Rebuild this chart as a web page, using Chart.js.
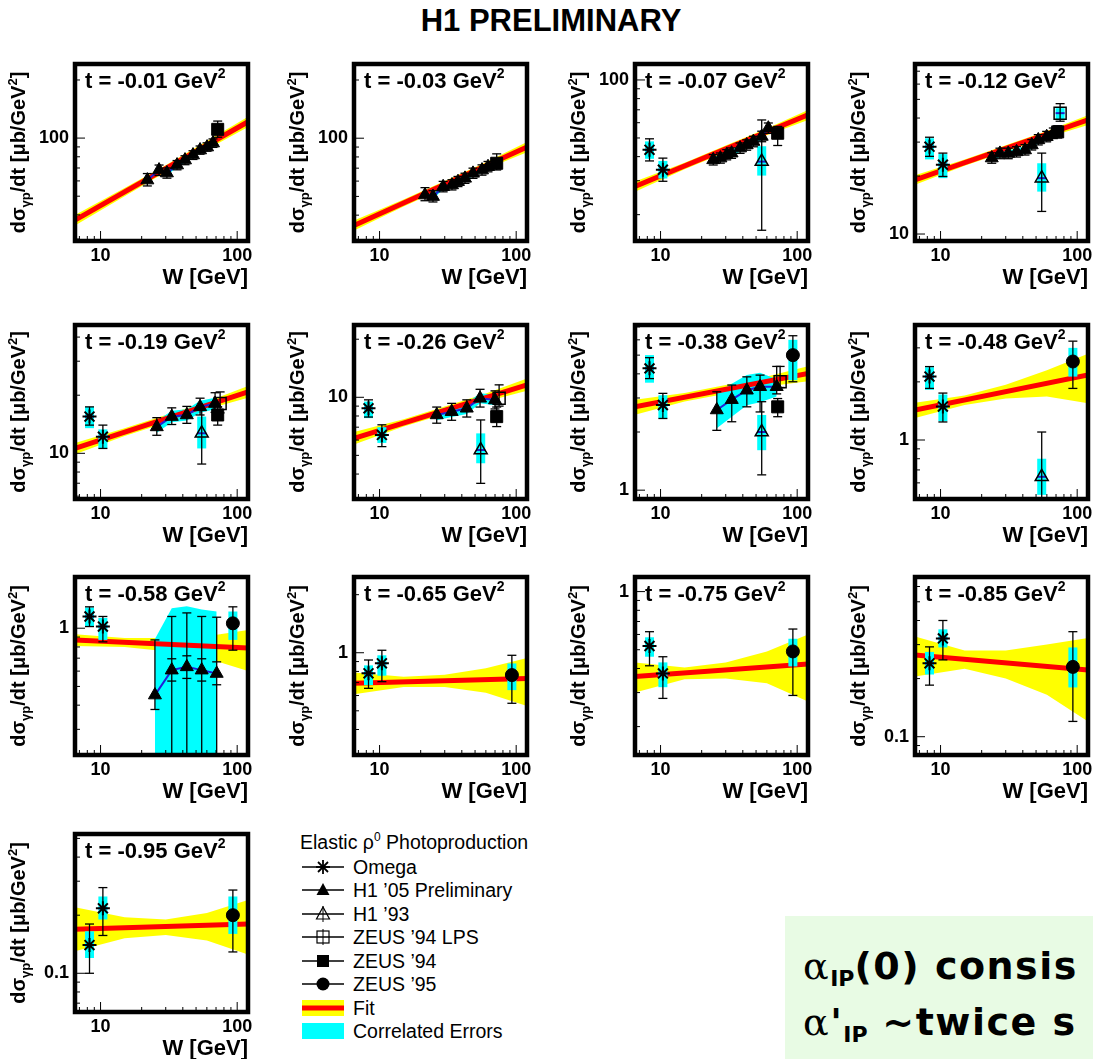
<!DOCTYPE html>
<html>
<head>
<meta charset="utf-8">
<script src="https://cdn.jsdelivr.net/npm/chart.js@4.4.1/dist/chart.umd.min.js"></script>
<style>
  body { margin: 0; width: 1093px; height: 1059px; overflow: hidden; background: #fff; position: relative;
         font-family: "Liberation Sans", Arial, sans-serif; color: #000; }
  canvas.panel { position: absolute; }
  #title { position: absolute; left: 0; width: 1102px; top: 3px; text-align: center; font-weight: bold; font-size: 31px; }
  #legend { position: absolute; left: 0; top: 0; }
  .lg-title { position: absolute; left: 300px; top: 830px; font-size: 19.5px; white-space: nowrap; }
  .lg-row { position: absolute; left: 302px; height: 22px; white-space: nowrap; font-size: 19.5px; line-height: 22px; }
  .lg-row svg { position: absolute; left: 0; top: 1px; }
  .lg-row span { position: absolute; left: 51px; top: 0; }
  #note { position: absolute; left: 785px; top: 916px; width: 320px; height: 150px; background: #e8fbe4;
          font-family: "DejaVu Sans", sans-serif; font-weight: bold; font-size: 38px; letter-spacing: 1.5px;
          white-space: nowrap; }
  #note div { position: absolute; left: 18px; }
  #note .a { font-family: "DejaVu Serif", serif; font-weight: normal; }
  #note sub { font-size: 22px; vertical-align: -7px; letter-spacing: 0; }
</style>
</head>
<body>
<div id="title">H1 PRELIMINARY</div>

<script>
// t bins and axis ranges (dsigma/dt in mub/GeV^2, W in GeV)
const tLabels = ['-0.01', '-0.03', '-0.07', '-0.12', '-0.19', '-0.26', '-0.38',
                 '-0.48', '-0.58', '-0.65', '-0.75', '-0.85', '-0.95'];
const wRange = [6.5, 120];
const yRanges = [[29.3, 242], [29.4, 242], [14.6, 121], [9.2, 76.3], [5.8, 46.2], [2.97, 23.7],
                 [0.90, 7.16], [0.495, 3.94], [0.221, 1.84], [0.295, 2.47], [0.1426, 1.19],
                 [0.0804, 0.672], [0.063, 0.527]];

// power-law fit: value at W = 6.5 and W = 120
const fitEnds = [[37.6, 121.5], [35.4, 90.1], [28.0, 65.9], [19.1, 39.1], [10.6, 20.8], [6.13, 11.6],
                 [2.70, 4.02], [1.43, 2.17], [0.87, 0.79], [0.694, 0.735], [0.363, 0.422],
                 [0.265, 0.2215], [0.169, 0.180]];

// fit uncertainty band edges
const bandW = [6.5, 15, 30, 60, 120];
const bandHi = [
  [39.9, 55.2, 72.3, 96.5, 128.8], [37.5, 48.2, 60.1, 75.0, 95.5], [29.7, 37.2, 45.7, 56.0, 69.9],
  [20.2, 24.4, 28.9, 34.3, 41.4], [11.3, 13.5, 15.8, 18.5, 22.3], [6.6, 7.7, 8.95, 10.45, 12.5],
  [2.94, 3.18, 3.5, 3.88, 4.38], [1.56, 1.70, 1.93, 2.30, 2.80], [0.93, 0.89, 0.89, 0.91, 0.98],
  [0.79, 0.75, 0.77, 0.83, 0.94], [0.43, 0.405, 0.43, 0.49, 0.60], [0.33, 0.28, 0.28, 0.30, 0.325],
  [0.22, 0.195, 0.19, 0.205, 0.24]];
const bandLo = [
  [35.3, 50.0, 66.7, 87.3, 114.2], [33.3, 44.4, 55.5, 69.2, 84.7], [26.3, 34.4, 42.1, 51.6, 61.9],
  [18.0, 22.6, 26.7, 31.7, 36.8], [9.9, 12.3, 14.4, 16.9, 19.4], [5.7, 7.05, 8.2, 9.5, 10.8],
  [2.46, 2.88, 3.16, 3.44, 3.66], [1.30, 1.52, 1.64, 1.68, 1.55], [0.81, 0.80, 0.76, 0.70, 0.60],
  [0.61, 0.665, 0.665, 0.62, 0.53], [0.30, 0.352, 0.355, 0.335, 0.27], [0.205, 0.225, 0.20, 0.165, 0.12],
  [0.13, 0.152, 0.158, 0.148, 0.125]];

// points: [W, value, totalLow, totalHigh, corrLow, corrHigh, statLow, statHigh]
const omega = [
  [], [],
  [[8.3, 43.4, 38.0, 49.5, 39.0, 48.0], [10.4, 34.2, 29.8, 39.3, 30.8, 38.0]],
  [[8.3, 28.4, 25.3, 31.8, 24.4, 31.4], [10.4, 22.9, 19.9, 26.3, 19.5, 26.0]],
  [[8.3, 15.5, 14.0, 17.4, 13.5, 17.4], [10.4, 12.2, 10.6, 14.0, 10.6, 13.3]],
  [[8.3, 8.77, 7.9, 9.7, 7.8, 9.5], [10.4, 6.38, 5.55, 7.2, 5.8, 7.0]],
  [[8.3, 4.27, 3.78, 4.85, 3.6, 5.0], [10.4, 2.76, 2.35, 3.17, 2.35, 3.1]],
  [[8.3, 2.13, 1.85, 2.4, 1.82, 2.38], [10.4, 1.49, 1.24, 1.75, 1.25, 1.72]],
  [[8.3, 1.15, 1.02, 1.29, 1.02, 1.28], [10.4, 1.02, 0.85, 1.15, 0.87, 1.13]],
  [[8.3, 0.782, 0.654, 0.917, 0.68, 0.86], [10.4, 0.881, 0.708, 1.03, 0.76, 0.97]],
  [[8.3, 0.523, 0.413, 0.62, 0.46, 0.58], [10.4, 0.377, 0.28, 0.46, 0.32, 0.43]],
  [[8.3, 0.24, 0.185, 0.292, 0.21, 0.275], [10.4, 0.323, 0.25, 0.40, 0.29, 0.36]],
  [[8.3, 0.14, 0.10, 0.18, 0.12, 0.165], [10.4, 0.217, 0.157, 0.278, 0.19, 0.25]]
];
const h1_05 = [
  [[22, 60.6, 56.5, 65.5, 59.0, 62.3], [26.8, 68.3, 64, 72.5, 66.5, 70], [30.6, 65.9, 62, 70, 64.2, 67.6],
   [36.3, 72.5, 68.5, 76.5, 70.5, 74.5], [41.5, 76.9, 72.8, 81, 74.8, 79], [47.5, 81.7, 77.5, 86, 79.5, 84],
   [53.5, 86.7, 82.5, 91, 84.3, 89.2], [60.2, 89.8, 85.5, 94.5, 87.3, 92.3], [66.5, 94.2, 89.5, 99, 91.6, 96.8]],
  [[21.5, 50.8, 47.5, 55.5, 49.3, 52.3], [24.6, 49.9, 46.8, 53.5, 48.4, 51.4], [29.2, 56.1, 52.8, 59.8, 54.4, 57.8],
   [33.9, 57.3, 54, 61, 55.6, 59], [37.5, 59.6, 56.2, 63.4, 57.8, 61.4], [42.2, 62, 58.4, 65.9, 60.1, 63.9],
   [48.3, 65.8, 62, 70, 63.8, 67.8], [56.2, 68.4, 64.4, 72.8, 66.3, 70.5], [62.2, 71.2, 67, 75.8, 69.1, 73.3]],
  [[24.3, 38.5, 36.2, 41.0, 37.0, 40.0], [27.4, 39.3, 37.0, 41.8, 37.8, 40.9], [30.5, 40.9, 38.5, 43.5, 39.3, 42.5],
   [33.1, 41.7, 39.2, 44.4, 40.0, 43.4], [38.2, 44.3, 41.6, 47.1, 42.5, 46.1], [42.7, 46.0, 43.2, 48.9, 44.2, 47.8],
   [47.8, 47.9, 45.0, 51.0, 46.0, 49.8], [55, 50.9, 47.8, 54.2, 48.9, 52.9], [61.5, 56.2, 52.8, 59.8, 53.9, 58.4]],
  [[23.7, 24.8, 23.3, 26.4, 23.8, 25.8], [27.2, 26.2, 24.6, 27.9, 25.2, 27.2], [31.3, 26.2, 24.6, 27.9, 25.2, 27.2],
   [36, 26.7, 25.1, 28.4, 25.6, 27.8], [41.5, 27.3, 25.7, 29.1, 26.2, 28.4], [46.5, 29.0, 27.3, 30.9, 27.8, 30.2],
   [51.9, 30.8, 29.0, 32.8, 29.6, 32.0], [59.8, 32.0, 30.1, 34.1, 30.7, 33.3], [66.9, 33.3, 31.3, 35.5, 32.0, 34.6]],
  [[25.8, 13.7, 12.4, 15.3, 12.8, 14.7], [33.2, 15.5, 14.1, 17.2, 14.5, 16.6], [42.8, 15.8, 14.3, 17.5, 14.8, 16.9],
   [53.5, 17.4, 15.8, 19.3, 16.2, 18.7], [68.9, 18.1, 16.3, 20.6, 16.9, 19.4]],
  [[26.2, 8.10, 7.34, 8.9, 7.6, 8.6], [33.7, 8.42, 7.6, 9.3, 7.9, 9.0], [43.5, 8.77, 7.9, 9.7, 8.2, 9.35],
   [54.4, 9.88, 8.9, 11.0, 9.3, 10.5], [70, 9.68, 8.7, 10.8, 9.1, 10.3]],
  [[25.8, 2.60, 2.04, 3.23, 2.09, 3.18], [33.2, 2.94, 2.26, 3.5, 2.40, 3.55], [42.8, 3.29, 2.70, 3.86, 2.75, 3.95],
   [53.5, 3.43, 2.54, 3.94, 2.85, 4.05], [70.8, 3.43, 3.15, 4.37, 3.05, 3.75]],
  [],
  [[25, 0.451, 0.38, 0.87, 0.1, 0.88], [33.2, 0.607, 0.1, 1.15, 0.1, 1.27, 0.533, 0.695],
   [42.8, 0.631, 0.1, 1.2, 0.1, 1.30, 0.55, 0.72], [55, 0.607, 0.1, 1.15, 0.1, 1.25, 0.533, 0.695],
   [70.8, 0.583, 0.1, 1.14, 0.1, 1.22, 0.51, 0.67]],
  [], [], [], []
];
const h1_93 = [[], [], [[55, 37.7, 16.6, 62, 31.9, 45.3]], [[55, 19.5, 13.1, 26.3, 16.6, 23.3]],
  [[55, 12.7, 8.8, 16.8, 10.6, 15.5]], [[55, 5.33, 3.58, 7.63, 4.55, 6.5]], [[55, 2.0, 1.2, 2.87, 1.61, 2.45]],
  [[55, 0.645, 0.3, 1.10, 0.52, 0.80]], [], [], [], [], []];
const zeusLps = [[], [], [], [[75, 42.4, 38.5, 47.5, 39.5, 45]], [[75, 18.1, 16.2, 20.8]], [[75, 9.88, 9.0, 11.6]],
  [[75, 3.64, 3.4, 4.37]], [], [], [], [], [], []];
const zeus94 = [[[72, 111, 101, 122.5]], [[72, 74.2, 68.5, 83]], [[72, 52.9, 45.7, 57.4]], [[72, 33.9, 31.5, 36.5]],
  [[72, 15.8, 14.0, 17.4]], [[72, 7.94, 7.05, 8.9]], [[72, 2.70, 2.40, 2.98]], [], [], [], [], [], []];
const zeus95 = [[], [], [], [], [], [], [[93, 5.0, 3.64, 6.3, 3.71, 6.0]], [[93, 2.55, 1.85, 3.25, 2.13, 3.0]],
  [[93, 1.06, 0.77, 1.29, 0.87, 1.22]], [[93, 0.766, 0.547, 0.97, 0.64, 0.88]], [[93, 0.49, 0.29, 0.64, 0.41, 0.57]],
  [[93, 0.23, 0.12, 0.35, 0.18, 0.29]], [[93, 0.20, 0.129, 0.27, 0.16, 0.25]]];

// page layout of the frames
const colLeft = [75, 354, 635, 915];
const rowTop = [64, 325, 577, 834];
const rowHeight = [177, 174, 178, 178];
const frameW = 173;
const FONT = '"Liberation Sans", Arial, sans-serif';

const isDecade = v => Math.abs(Math.log10(v) - Math.round(Math.log10(v))) < 1e-6;

function drawRich(ctx, x, y, parts, align) {
  let total = 0;
  parts.forEach(p => { ctx.font = 'bold ' + p[1] + 'px ' + FONT; total += ctx.measureText(p[0]).width; });
  let cx = align === 'center' ? x - total / 2 : x;
  ctx.textAlign = 'left';
  ctx.textBaseline = 'alphabetic';
  parts.forEach(p => {
    ctx.font = 'bold ' + p[1] + 'px ' + FONT;
    ctx.fillText(p[0], cx, y + p[2]);
    cx += ctx.measureText(p[0]).width;
  });
}

function vline(ctx, x, y0, y1) { ctx.beginPath(); ctx.moveTo(x, y0); ctx.lineTo(x, y1); ctx.stroke(); }
function hline(ctx, x0, x1, y) { ctx.beginPath(); ctx.moveTo(x0, y); ctx.lineTo(x1, y); ctx.stroke(); }

// cyan boxes and error bars, drawn right after the blue H1 line so markers sit on top
const panelDecor = {
  id: 'panelDecor',
  afterDatasetDraw(chart, args) {
    if (chart.data.datasets[args.index].role !== 'corrLine') return;
    const i = +chart.canvas.dataset.panel;
    const { ctx, chartArea: a } = chart;
    const xs = chart.scales.x, ys = chart.scales.y;
    ctx.save();
    ctx.beginPath(); ctx.rect(a.left, a.top, a.right - a.left, a.bottom - a.top); ctx.clip();
    const single = [].concat(omega[i], h1_93[i], zeusLps[i], zeus94[i], zeus95[i]);
    single.forEach(p => {
      if (p[4] === undefined) return;
      const px = xs.getPixelForValue(p[0]);
      const yh = ys.getPixelForValue(p[5]), yl = ys.getPixelForValue(p[4]);
      ctx.fillStyle = '#00ffff';
      ctx.fillRect(px - 4.5, yh, 9, yl - yh);
      ctx.strokeStyle = '#1c1cc8'; ctx.lineWidth = 2;
      hline(ctx, px - 4.5, px + 4.5, ys.getPixelForValue(p[1]));
    });
    const all = single.concat(h1_05[i]);
    ctx.strokeStyle = '#000'; ctx.lineWidth = 1.3;
    all.forEach(p => {
      const px = xs.getPixelForValue(p[0]);
      const yh = ys.getPixelForValue(p[3]), yl = ys.getPixelForValue(p[2]);
      vline(ctx, px, yh, yl);
      hline(ctx, px - 4.5, px + 4.5, yh);
      hline(ctx, px - 4.5, px + 4.5, yl);
      if (p[6] !== undefined) {
        hline(ctx, px - 4.5, px + 4.5, ys.getPixelForValue(p[6]));
        hline(ctx, px - 4.5, px + 4.5, ys.getPixelForValue(p[7]));
      }
    });
    ctx.restore();
  },
  afterDraw(chart) {
    const i = +chart.canvas.dataset.panel;
    const { ctx, chartArea: a } = chart;
    const xs = chart.scales.x, ys = chart.scales.y;
    ctx.save();
    ctx.strokeStyle = '#000';
    ctx.lineWidth = 1;
    // inward log ticks on the left and bottom axes
    const logTicks = (lo, hi) => {
      const out = [];
      for (let d = Math.floor(Math.log10(lo)); d <= Math.ceil(Math.log10(hi)); d++)
        for (let k = 1; k <= 9; k++) {
          const v = +(k * Math.pow(10, d)).toPrecision(6);
          if (v > lo && v < hi) out.push(v);
        }
      return out;
    };
    logTicks(ys.min, ys.max).forEach(v => {
      const py = ys.getPixelForValue(v);
      hline(ctx, a.left, a.left + (isDecade(v) ? 10 : 5), py);
    });
    logTicks(xs.min, xs.max).forEach(v => {
      const px = xs.getPixelForValue(v);
      vline(ctx, px, a.bottom, a.bottom - (isDecade(v) ? 10 : 5));
    });
    // frame
    ctx.lineWidth = 4.5;
    ctx.strokeRect(a.left, a.top, a.right - a.left, a.bottom - a.top);
    // t label
    ctx.fillStyle = '#000';
    drawRich(ctx, a.left + 10, a.top + 24, [['t = ' + tLabels[i] + ' GeV', 22, 0], ['2', 14, -10]], 'left');
    // y title
    ctx.translate(a.left - 57, (a.top + a.bottom) / 2);
    ctx.rotate(-Math.PI / 2);
    drawRich(ctx, 0, 7, [['dσ', 20, 0], ['γp', 13, 5], ['/dt [μb/GeV', 20, 0], ['2', 13, -8], [']', 20, 0]], 'center');
    ctx.restore();
  }
};

const xy = list => list.map(p => ({ x: p[0], y: p[1] }));
const markerSet = (data, style, r, fill, bw) => ({
  data: xy(data), showLine: false, pointStyle: style, pointRadius: r, pointHoverRadius: r,
  pointBackgroundColor: fill, pointBorderColor: '#000', pointBorderWidth: bw, order: 1
});

tLabels.forEach((t, i) => {
  const col = i % 4, row = Math.floor(i / 4);
  const h = rowHeight[row];
  const cv = document.createElement('canvas');
  cv.className = 'panel';
  cv.dataset.panel = i;
  cv.width = 80 + frameW + 22;
  cv.height = 22 + h + 50;
  cv.style.left = (colLeft[col] - 80) + 'px';
  cv.style.top = (rowTop[row] - 22) + 'px';
  document.body.appendChild(cv);

  const datasets = [
    { data: bandW.map((w, j) => ({ x: w, y: bandHi[i][j] })), fill: '+1', backgroundColor: '#ffff00',
      borderWidth: 0, pointRadius: 0, order: 10 },
    { data: bandW.map((w, j) => ({ x: w, y: bandLo[i][j] })), fill: false, borderWidth: 0, pointRadius: 0, order: 10 },
    { data: h1_05[i].map(p => ({ x: p[0], y: p[5] })), fill: '+1', backgroundColor: '#00ffff',
      borderWidth: 0, pointRadius: 0, order: 9 },
    { data: h1_05[i].map(p => ({ x: p[0], y: p[4] })), fill: false, borderWidth: 0, pointRadius: 0, order: 9 },
    { data: [{ x: wRange[0], y: fitEnds[i][0] }, { x: wRange[1], y: fitEnds[i][1] }], borderColor: '#ff0000',
      borderWidth: 5, pointRadius: 0, fill: false, order: 8 },
    { role: 'corrLine', data: xy(h1_05[i]), borderColor: '#2020d8', borderWidth: 2, pointRadius: 0, fill: false, order: 6 },
    markerSet(omega[i], 'star', 7, '#000', 2),
    markerSet(h1_05[i], 'triangle', 7.5, '#000', 1),
    markerSet(h1_93[i], 'triangle', 7.5, 'rgba(0,0,0,0)', 1.5),
    markerSet(zeusLps[i], 'rect', 8.5, 'rgba(0,0,0,0)', 1.5),
    markerSet(zeus94[i], 'rect', 8.5, '#000', 1),
    markerSet(zeus95[i], 'circle', 6.5, '#000', 1)
  ];

  new Chart(cv, {
    type: 'line',
    data: { datasets },
    options: {
      responsive: false,
      animation: false,
      layout: { padding: { top: 22, right: 22, left: 0, bottom: 0 } },
      plugins: { legend: { display: false }, tooltip: { enabled: false } },
      scales: {
        x: {
          type: 'logarithmic', min: wRange[0], max: wRange[1],
          afterFit: s => { s.height = 50; },
          grid: { display: false, drawTicks: false }, border: { display: false },
          ticks: { autoSkip: false, maxRotation: 0, padding: 4, color: '#000',
                   font: { family: FONT, size: 18, weight: 'bold' },
                   callback: v => (v === 10 || v === 100) ? String(v) : '' },
          title: { display: true, text: 'W [GeV]', align: 'end', color: '#000',
                   font: { family: FONT, size: 22, weight: 'bold' }, padding: { top: 0, bottom: 0 } }
        },
        y: {
          type: 'logarithmic', min: yRanges[i][0], max: yRanges[i][1],
          afterFit: s => { s.width = 80; },
          grid: { display: false, drawTicks: false }, border: { display: false },
          ticks: { autoSkip: false, padding: 6, color: '#000',
                   font: { family: FONT, size: 18, weight: 'bold' },
                   callback: v => isDecade(v) ? String(+v.toPrecision(1)) : '' }
        }
      }
    },
    plugins: [panelDecor]
  });
});
</script>

<div id="legend">
  <div class="lg-title">Elastic ρ<sup style="font-size:12px">0</sup> Photoproduction</div>
  <div class="lg-row" style="top:856px">
    <svg width="44" height="20"><line x1="0" y1="10" x2="42" y2="10" stroke="#000" stroke-width="1.5"/>
      <g stroke="#000" stroke-width="1.8"><line x1="21" y1="3" x2="21" y2="17"/><line x1="14" y1="10" x2="28" y2="10"/>
      <line x1="16" y1="5" x2="26" y2="15"/><line x1="26" y1="5" x2="16" y2="15"/></g></svg>
    <span>Omega</span></div>
  <div class="lg-row" style="top:879px">
    <svg width="44" height="20"><line x1="0" y1="10" x2="42" y2="10" stroke="#000" stroke-width="1.5"/>
      <polygon points="21,3 14.5,15 27.5,15" fill="#000"/></svg>
    <span>H1 ’05 Preliminary</span></div>
  <div class="lg-row" style="top:903px">
    <svg width="44" height="20"><line x1="0" y1="10" x2="42" y2="10" stroke="#000" stroke-width="1.5"/>
      <line x1="21" y1="2" x2="21" y2="18" stroke="#000" stroke-width="1"/>
      <polygon points="21,3 14.5,15 27.5,15" fill="none" stroke="#000" stroke-width="1.2"/></svg>
    <span>H1 ’93</span></div>
  <div class="lg-row" style="top:926px">
    <svg width="44" height="20"><line x1="0" y1="10" x2="42" y2="10" stroke="#000" stroke-width="1.5"/>
      <line x1="21" y1="2" x2="21" y2="18" stroke="#000" stroke-width="1"/>
      <rect x="15" y="4" width="12" height="12" fill="none" stroke="#000" stroke-width="1.2"/></svg>
    <span>ZEUS ’94 LPS</span></div>
  <div class="lg-row" style="top:950px">
    <svg width="44" height="20"><line x1="0" y1="10" x2="42" y2="10" stroke="#000" stroke-width="1.5"/>
      <rect x="15" y="4" width="12" height="12" fill="#000"/></svg>
    <span>ZEUS ’94</span></div>
  <div class="lg-row" style="top:973px">
    <svg width="44" height="20"><line x1="0" y1="10" x2="42" y2="10" stroke="#000" stroke-width="1.5"/>
      <circle cx="21" cy="10" r="6.5" fill="#000"/></svg>
    <span>ZEUS ’95</span></div>
  <div class="lg-row" style="top:997px">
    <svg width="44" height="20"><rect x="0" y="2" width="42" height="16" fill="#ffff00"/>
      <line x1="0" y1="10" x2="42" y2="10" stroke="#ff0000" stroke-width="5"/></svg>
    <span>Fit</span></div>
  <div class="lg-row" style="top:1020px">
    <svg width="44" height="20"><rect x="0" y="2" width="42" height="16" fill="#00ffff"/></svg>
    <span>Correlated Errors</span></div>
</div>

<div id="note">
  <div style="top:28px"><span class="a">α</span><sub>IP</sub>(0) consis</div>
  <div style="top:84px"><span class="a">α</span>'<sub>IP</sub> ~twice s</div>
</div>
</body>
</html>
